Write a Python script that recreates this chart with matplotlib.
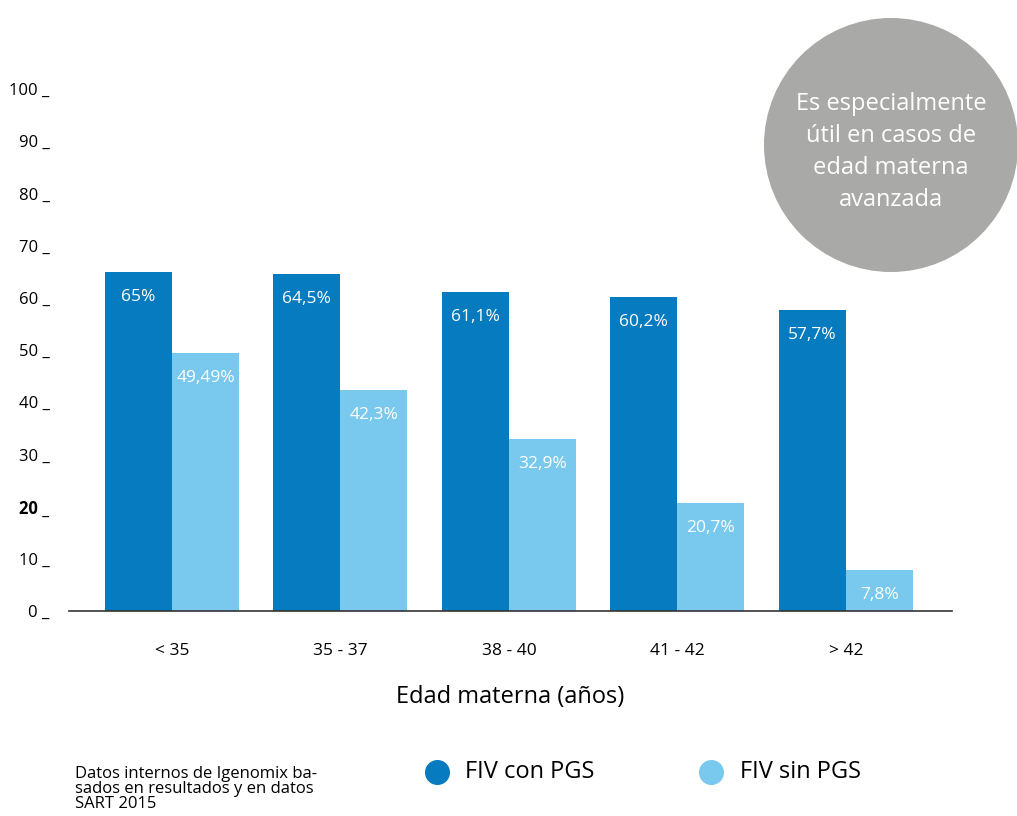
import matplotlib.pyplot as plt
from matplotlib.patches import Circle
import numpy as np

plt.rcParams['font.family'] = ['Open Sans', 'DejaVu Sans']

grupos = ['< 35', '35 - 37', '38 - 40', '41 - 42', '> 42']
con_pgs = [65, 64.5, 61.1, 60.2, 57.7]
sin_pgs = [49.49, 42.3, 32.9, 20.7, 7.8]
etiq_con = ['65%', '64,5%', '61,1%', '60,2%', '57,7%']
etiq_sin = ['49,49%', '42,3%', '32,9%', '20,7%', '7,8%']
yticks = [0, 10, 20, 30, 40, 50, 60, 70, 80, 90, 100]

azul = '#077bc0'
celeste = '#79c9ee'
gris = '#a9a9a8'

fig = plt.figure(figsize=(10.17, 8.16), dpi=100)
W, H = 1017, 816
ax = fig.add_axes([69 / W, (H - 611) / H, (952 - 69) / W, (611 - 89) / H])

x = np.arange(len(grupos))
w = 0.398
b1 = ax.bar(x - w / 2, con_pgs, w, color=azul)
b2 = ax.bar(x + w / 2, sin_pgs, w, color=celeste)

for bars, labels in ((b1, etiq_con), (b2, etiq_sin)):
    for r, t in zip(bars, labels):
        ax.annotate(t, (r.get_x() + r.get_width() / 2, r.get_height()),
                    xytext=(0, -18), textcoords='offset points',
                    ha='center', va='center', color='white', fontsize=12.5)

ax.set_xlim(-0.611, 4.63)
ax.set_ylim(0, 100)
ax.set_yticks(yticks)
ax.set_yticklabels([f'{v} _' for v in yticks], fontsize=12)
for lab in ax.get_yticklabels():
    if lab.get_text().startswith('20 '):
        lab.set_fontweight('bold')
ax.tick_params(axis='y', length=0, pad=14)
ax.set_xticks(x)
ax.set_xticklabels(grupos, fontsize=12.5)
ax.tick_params(axis='x', length=0, pad=23)
ax.set_xlabel('Edad materna (años)', fontsize=17, labelpad=19)
for s in ('top', 'right', 'left'):
    ax.spines[s].set_visible(False)
ax.spines['bottom'].set_color('#333333')
ax.spines['bottom'].set_linewidth(1.2)

# capa en pixeles para el circulo, la leyenda y la nota
ov = fig.add_axes([0, 0, 1, 1], zorder=5)
ov.set_xlim(0, W)
ov.set_ylim(H, 0)
ov.axis('off')
ov.patch.set_alpha(0)

ov.add_patch(Circle((891, 145), 127, color=gris, lw=0))
ov.text(891, 152, 'Es especialmente\nútil en casos de\nedad materna\navanzada',
        ha='center', va='center', color='white', fontsize=17, linespacing=1.45)

ov.plot([437], [772], 'o', color=azul, ms=17)
ov.text(465, 772, 'FIV con PGS', va='center', fontsize=17)
ov.plot([711], [772], 'o', color=celeste, ms=17)
ov.text(740, 772, 'FIV sin PGS', va='center', fontsize=17)

ov.text(75, 789, 'Datos internos de Igenomix ba-\nsados en resultados y en datos\nSART 2015',
        va='center', fontsize=12, linespacing=0.95)

fig.savefig('out.png', dpi=100)
